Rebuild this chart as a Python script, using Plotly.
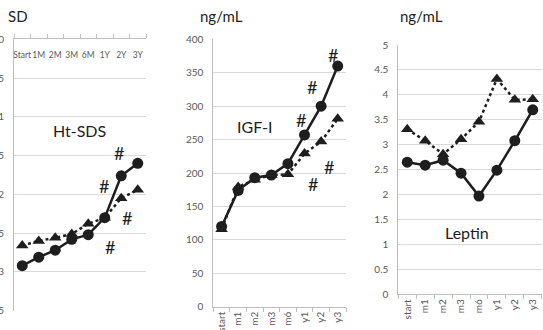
import plotly.graph_objects as go

# ---------------- data ----------------
ht_cats = ["Start", "1M", "2M", "3M", "6M", "1Y", "2Y", "3Y"]
ht_circle = [-2.92, -2.81, -2.72, -2.58, -2.52, -2.30, -1.76, -1.60]
ht_triangle = [-2.66, -2.60, -2.56, -2.51, -2.38, -2.30, -2.05, -1.94]

lab_cats = ["start", "m1", "m2", "m3", "m6", "y1", "y2", "y3"]
igf_circle = [120, 174, 193, 197, 214, 257, 300, 360]
igf_triangle = [116, 179, 190, 197, 198, 229, 247, 281]

lep_circle = [2.65, 2.59, 2.69, 2.43, 1.97, 2.49, 3.08, 3.70]
lep_triangle = [3.31, 3.08, 2.81, 3.11, 3.46, 4.32, 3.90, 3.91]

ht_ticks = [0, -0.5, -1, -1.5, -2, -2.5, -3, -3.5]
igf_ticks = [0, 50, 100, 150, 200, 250, 300, 350, 400]
lep_ticks = [0, 0.5, 1, 1.5, 2, 2.5, 3, 3.5, 4, 4.5, 5]

# significance marks (category index, value)
ht_hash = [(7.93, -1.26), (5.87, -1.47), (4.96, -1.89), (8.05, -2.11), (6.35, -2.30), (5.32, -2.68)]
igf_hash = [(6.73, 377), (5.46, 328), (4.80, 280), (7.75, 247), (6.47, 209), (5.49, 184)]

INK = "#1e1e1e"
GRID = "#d9d9d9"
AXIS = "#bfbfbf"
TICKC = "#595959"
FONT = "Lato"

fig = go.Figure()

def add_pair(cats, circ, tri, xa, ya):
    fig.add_trace(go.Scatter(
        x=cats, y=tri, mode="lines+markers", xaxis=xa, yaxis=ya,
        line=dict(color=INK, width=2.5, dash="dot"),
        marker=dict(symbol="triangle-up", size=11, color=INK),
        showlegend=False, cliponaxis=False))
    fig.add_trace(go.Scatter(
        x=cats, y=circ, mode="lines+markers", xaxis=xa, yaxis=ya,
        line=dict(color=INK, width=2.5),
        marker=dict(symbol="circle", size=11, color=INK),
        showlegend=False, cliponaxis=False))

add_pair(ht_cats, ht_circle, ht_triangle, "x", "y")
add_pair(lab_cats, igf_circle, igf_triangle, "x2", "y2")
add_pair(lab_cats, lep_circle, lep_triangle, "x3", "y3")

W, H = 543, 330
def px_dom(a, b, total):
    return [a / total, b / total]

def ydom(top, bottom):
    return [(H - bottom) / H, (H - top) / H]

common_y = dict(showgrid=True, gridcolor=GRID, gridwidth=1, zeroline=False,
                showline=True, linecolor=AXIS, linewidth=1, ticks="",
                automargin=False, ticklabeloverflow="allow",
                tickfont=dict(family=FONT, size=10, color=TICKC),
                ticklabelstandoff=7)

common_x = dict(type="category", range=[-0.5, 7.5], showgrid=False, zeroline=False,
                showline=True, linecolor=AXIS, linewidth=1, automargin=False,
                ticklabeloverflow="allow",
                ticks="outside", tickson="boundaries", ticklen=4, tickcolor=AXIS)

fig.update_layout(
    width=W, height=H, margin=dict(l=0, r=0, t=0, b=0, autoexpand=False),
    paper_bgcolor="white", plot_bgcolor="white",
    font=dict(family=FONT, color=INK),
    xaxis=dict(domain=px_dom(14, 146, W), anchor="y", side="top",
               ticklabelposition="inside", tickangle=0, ticklabelstandoff=11,
               tickfont=dict(family=FONT, size=8.5, color=TICKC), **common_x),
    yaxis=dict(domain=ydom(39.3, 310.7), anchor="x", range=[-3.5, 0],
               tickvals=ht_ticks, ticktext=[str(v) for v in ht_ticks], **common_y),
    xaxis2=dict(domain=px_dom(213.3, 346, W), anchor="y2",
                tickangle=-90, tickfont=dict(family=FONT, size=10, color=TICKC), **common_x),
    yaxis2=dict(domain=ydom(39.3, 306.7), anchor="x2", range=[0, 400],
                tickvals=igf_ticks, **common_y),
    xaxis3=dict(domain=px_dom(398.3, 541.7, W), anchor="y3",
                tickangle=-90, tickfont=dict(family=FONT, size=10, color=TICKC), **common_x),
    yaxis3=dict(domain=ydom(45, 294.3), anchor="x3", range=[0, 5],
                tickvals=lep_ticks, **common_y),
)

ann = []
# unit titles
for txt, x in [("SD", 18), ("ng/mL", 221), ("ng/mL", 421)]:
    ann.append(dict(text=txt, x=x / W, y=1 - 16 / H, xref="paper", yref="paper",
                    showarrow=False, xanchor="center", yanchor="middle",
                    font=dict(family=FONT, size=15, color=INK)))
# panel names
ann.append(dict(text="Ht-SDS", x=3.44, y=-1.17, xref="x", yref="y", showarrow=False,
                font=dict(family=FONT, size=16, color=INK)))
ann.append(dict(text="IGF-I", x=2.01, y=269, xref="x2", yref="y2", showarrow=False,
                font=dict(family=FONT, size=16, color=INK)))
ann.append(dict(text="Leptin", x=3.31, y=1.235, xref="x3", yref="y3", showarrow=False,
                font=dict(family=FONT, size=16, color=INK)))
for (xi, yv) in ht_hash:
    ann.append(dict(text="#", x=xi, y=yv, xref="x", yref="y", showarrow=False,
                    font=dict(family=FONT, size=18, color=INK)))
for (xi, yv) in igf_hash:
    ann.append(dict(text="#", x=xi, y=yv, xref="x2", yref="y2", showarrow=False,
                    font=dict(family=FONT, size=18, color=INK)))
fig.update_layout(annotations=ann)

fig.write_html("out.html")
